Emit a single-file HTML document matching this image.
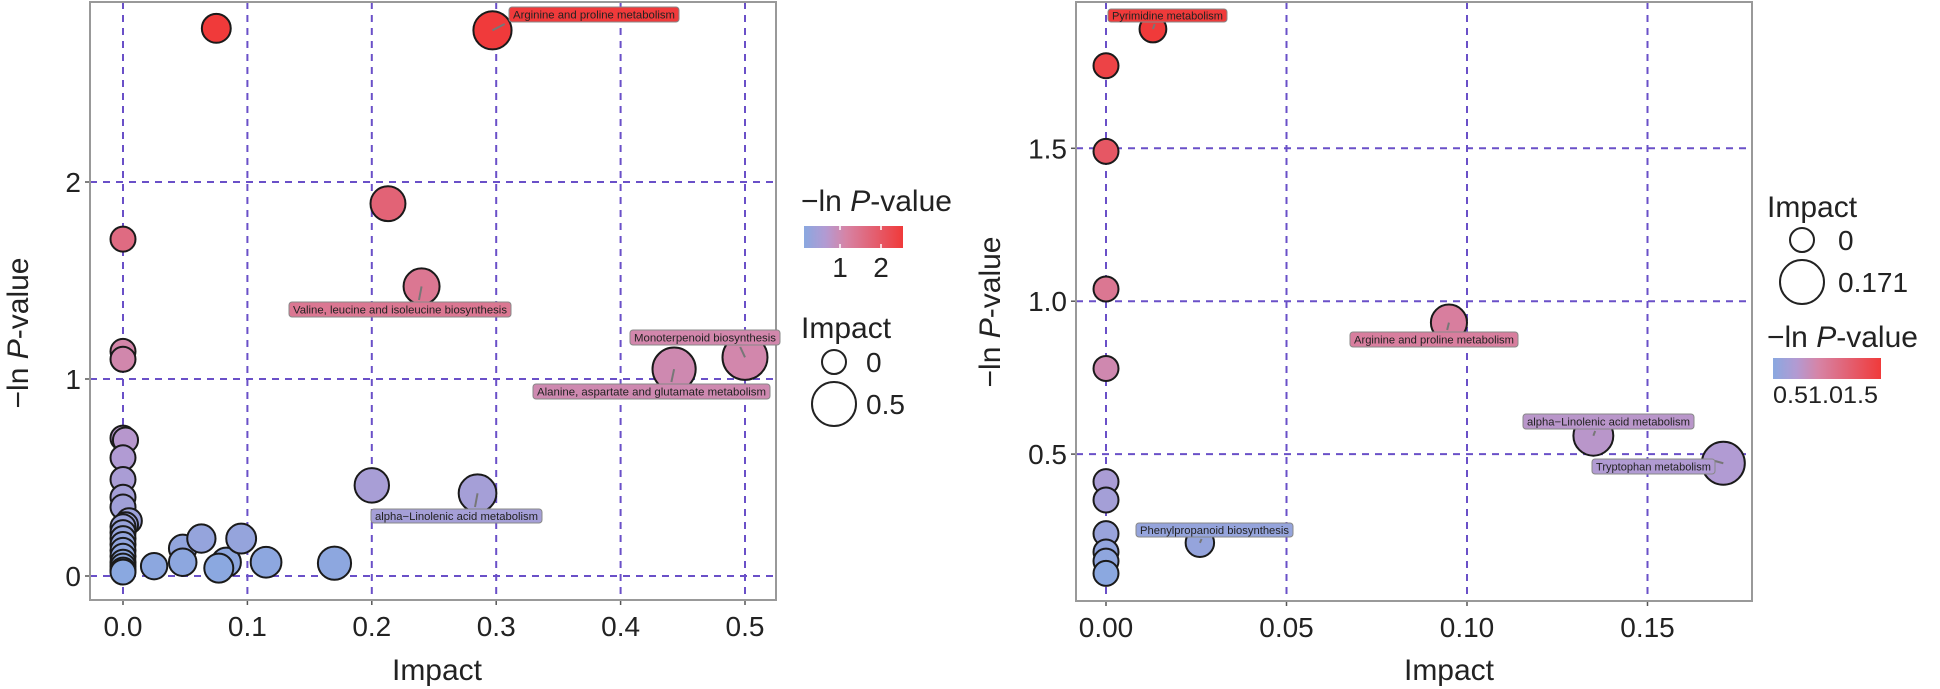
<!DOCTYPE html>
<html><head><meta charset="utf-8"><style>
html,body{margin:0;padding:0;background:#fff;}
svg{display:block;font-family:"Liberation Sans",Arial,sans-serif;}
</style></head><body>
<svg id="s" width="1940" height="689" viewBox="0 0 1940 689" xmlns="http://www.w3.org/2000/svg">
<defs>
<linearGradient id="cb" x1="0" x2="1" y1="0" y2="0">
<stop offset="0" stop-color="#8aa8e0"/><stop offset="0.22" stop-color="#b39ad2"/><stop offset="0.42" stop-color="#d684a6"/><stop offset="1" stop-color="#f03a3a"/>
</linearGradient>
</defs>
</svg>
<script>
const NS="http://www.w3.org/2000/svg",S=document.getElementById('s');
function el(t,a,txt){const e=document.createElementNS(NS,t);for(const k in a)e.setAttribute(k,a[k]);if(txt!==undefined)e.textContent=txt;S.appendChild(e);return e;}
const stops=[[0,[138,168,224]],[0.22,[179,154,210]],[0.42,[214,132,166]],[1,[240,58,58]]];
function col(t){t=Math.max(0,Math.min(1,t));for(let i=1;i<stops.length;i++){if(t<=stops[i][0]){const a=stops[i-1],b=stops[i],f=(t-a[0])/(b[0]-a[0]);return 'rgb('+a[1].map((v,j)=>Math.round(v+(b[1][j]-v)*f)).join(',')+')';}}}
function panel(P){
 P.xt.forEach(v=>{const x=P.x0+v*P.kx;el('line',{x1:x,x2:x,y1:P.top,y2:P.bot,stroke:'#6a50c8','stroke-width':2,'stroke-dasharray':'7,6'});
   el('text',{x:x,y:P.bot+36,'font-size':28,'text-anchor':'middle',fill:'#222'},P.xl(v));});
 P.yt.forEach(v=>{const y=P.y0-v*P.ky;el('line',{x1:P.left,x2:P.right,y1:y,y2:y,stroke:'#6a50c8','stroke-width':2,'stroke-dasharray':'7,6'});
   el('text',{x:P.left-9,y:y+10,'font-size':28,'text-anchor':'end',fill:'#222'},P.yl(v));
   el('line',{x1:P.left-5,x2:P.left,y1:y,y2:y,stroke:'#555','stroke-width':1.5});});
 P.xt.forEach(v=>{const x=P.x0+v*P.kx;el('line',{x1:x,x2:x,y1:P.bot,y2:P.bot+5,stroke:'#555','stroke-width':1.5});});
 el('rect',{x:P.left,y:P.top,width:P.right-P.left,height:P.bot-P.top,fill:'none',stroke:'#999','stroke-width':2});
 P.pts.forEach(p=>{const x=P.x0+p[0]*P.kx,y=P.y0-p[1]*P.ky,r=Math.sqrt(156+P.rs*p[0]);
   el('circle',{cx:x,cy:y,r:r,fill:col((p[1]-P.vmin)/(P.vmax-P.vmin)),stroke:'#1a1a1a','stroke-width':2});});
 P.labels.forEach(L=>{const p=L.p,x=P.x0+p[0]*P.kx,y=P.y0-p[1]*P.ky;const c=col((p[1]-P.vmin)/(P.vmax-P.vmin));
   const cx=(L.b[0]+L.b[2])/2,cy=(L.b[1]+L.b[3])/2;
   let ty=cy<y?L.b[3]:L.b[1];
   el('line',{x1:x,y1:y,x2:x+(cx-x)*0.12,y2:ty+(y>ty?2:-2),stroke:'#777','stroke-width':2});
   el('rect',{x:L.b[0],y:L.b[1],width:L.b[2]-L.b[0],height:L.b[3]-L.b[1],rx:3,fill:c,stroke:'#888','stroke-width':1});
   el('text',{x:cx,y:cy+4,'font-size':11,'text-anchor':'middle',fill:'#222',textLength:(L.b[2]-L.b[0]-8),lengthAdjust:'spacingAndGlyphs'},L.t);});
 el('text',{x:P.xtx,y:680,'font-size':30,'text-anchor':'middle',fill:'#222'},'Impact');
 const t=el('text',{transform:'translate('+P.ytx+','+P.yty+') rotate(-90)','font-size':30,'text-anchor':'middle',fill:'#222'});
 t.innerHTML='\u2212ln <tspan font-style="italic">P</tspan>-value';
}
const fx=v=>v.toFixed(1);
panel({left:90,right:776,top:2,bot:600,x0:123,kx:1244,y0:576,ky:197,xt:[0,.1,.2,.3,.4,.5],yt:[0,1,2],xl:fx,yl:v=>String(v),
 rs:700,vmin:0.02,vmax:2.78,xtx:437,ytx:28,yty:333,
 pts:[[0,0.70],[0.002,0.69],[0,0.60],[0,0.49],[0,0.40],[0,0.35],[0.005,0.28],[0.002,0.26],[0,0.25],[0,0.22],[0,0.19],[0,0.16],[0,0.13],[0,0.10],[0,0.07],[0,0.05],[0,0.03],[0,0.02],
  [0,1.71],[0,1.14],[0,1.10],[0.025,0.05],[0.048,0.14],[0.048,0.07],[0.063,0.19],[0.083,0.07],[0.077,0.04],[0.095,0.19],[0.115,0.07],[0.17,0.065],
  [0.2,0.46],[0.285,0.42],[0.443,1.05],[0.5,1.11],[0.24,1.47],[0.213,1.89],[0.075,2.78],[0.297,2.77]],
 labels:[{p:[0.297,2.77],b:[509,7,679,22],t:'Arginine and proline metabolism'},
  {p:[0.24,1.47],b:[289,302,511,317],t:'Valine, leucine and isoleucine biosynthesis'},
  {p:[0.5,1.11],b:[630,330,780,345],t:'Monoterpenoid biosynthesis'},
  {p:[0.443,1.05],b:[533,384,770,399],t:'Alanine, aspartate and glutamate metabolism'},
  {p:[0.285,0.42],b:[371,509,542,523],t:'alpha\u2212Linolenic acid metabolism'}]});
panel({left:1076,right:1752,top:2,bot:601,x0:1106,kx:3610,y0:607,ky:305.8,xt:[0,.05,.1,.15],yt:[0.5,1,1.5],xl:v=>v.toFixed(2),yl:fx,
 rs:1790,vmin:0.1,vmax:1.89,xtx:1449,ytx:1000,yty:312,
 pts:[[0,1.77],[0,1.49],[0,1.04],[0,0.78],[0,0.41],[0,0.35],[0,0.24],[0,0.18],[0,0.15],[0,0.11],[0.026,0.21],[0.013,1.89],[0.095,0.93],[0.135,0.56],[0.171,0.47]],
 labels:[{p:[0.013,1.89],b:[1108,9,1227,22],t:'Pyrimidine metabolism'},
  {p:[0.095,0.93],b:[1350,332,1518,347],t:'Arginine and proline metabolism'},
  {p:[0.135,0.56],b:[1523,414,1694,429],t:'alpha\u2212Linolenic acid metabolism'},
  {p:[0.171,0.47],b:[1592,459,1715,474],t:'Tryptophan metabolism'},
  {p:[0.026,0.21],b:[1136,523,1293,537],t:'Phenylpropanoid biosynthesis'}]});
function title(x,y,html){const t=el('text',{x:x,y:y,'font-size':30,fill:'#222'});t.innerHTML=html;}
title(801,211,'\u2212ln <tspan font-style="italic">P</tspan>-value');
el('rect',{x:804,y:226,width:99,height:22,fill:'url(#cb)'});
[840,881].forEach(x=>{el('line',{x1:x,x2:x,y1:226,y2:230,stroke:'#fff','stroke-width':1.5});el('line',{x1:x,x2:x,y1:244,y2:248,stroke:'#fff','stroke-width':1.5});});
el('text',{x:840,y:277,'font-size':28,'text-anchor':'middle',fill:'#222'},'1');
el('text',{x:881,y:277,'font-size':28,'text-anchor':'middle',fill:'#222'},'2');
title(801,338,'Impact');
el('circle',{cx:834,cy:362,r:12,fill:'none',stroke:'#222','stroke-width':2});
el('circle',{cx:834,cy:404,r:22,fill:'none',stroke:'#222','stroke-width':2});
el('text',{x:866,y:372,'font-size':28,fill:'#222'},'0');
el('text',{x:866,y:414,'font-size':28,fill:'#222'},'0.5');
title(1767,217,'Impact');
el('circle',{cx:1802,cy:240,r:12,fill:'none',stroke:'#222','stroke-width':2});
el('circle',{cx:1802,cy:282,r:22,fill:'none',stroke:'#222','stroke-width':2});
el('text',{x:1838,y:250,'font-size':28,fill:'#222'},'0');
el('text',{x:1838,y:292,'font-size':28,fill:'#222'},'0.171');
title(1767,347,'\u2212ln <tspan font-style="italic">P</tspan>-value');
el('rect',{x:1773,y:358,width:108,height:21,fill:'url(#cb)'});
el('text',{x:1773,y:403,'font-size':24,fill:'#222',textLength:105,lengthAdjust:'spacingAndGlyphs'},'0.51.01.5');
</script>
</body></html>
